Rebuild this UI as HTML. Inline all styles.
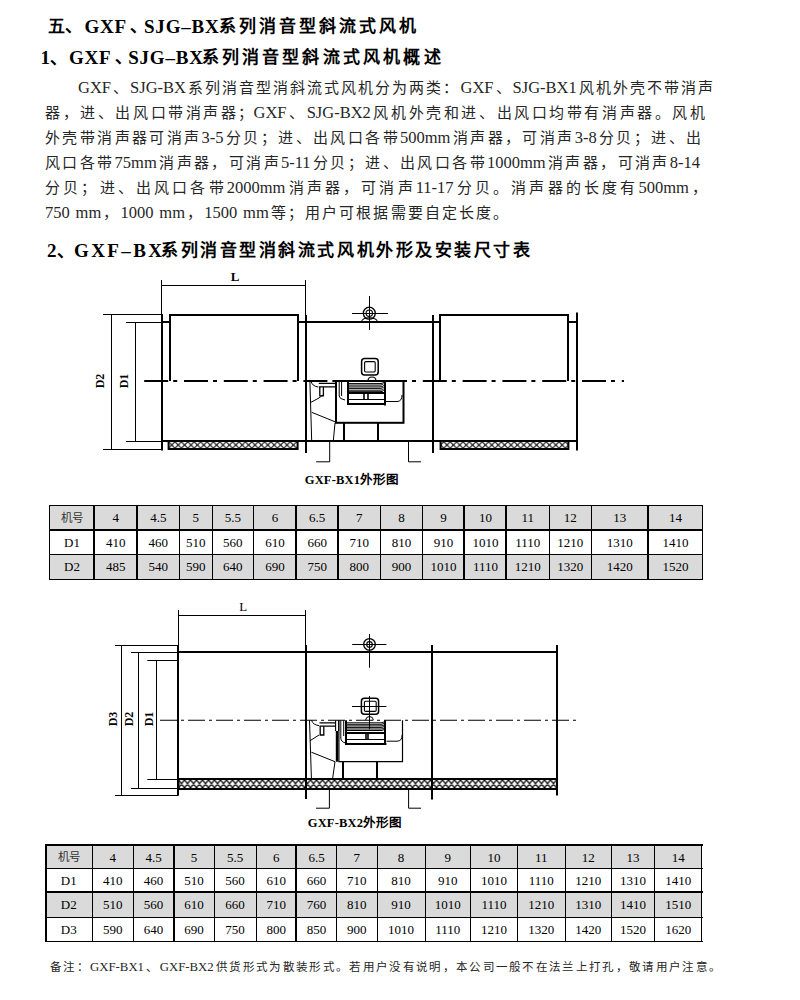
<!DOCTYPE html><html lang="zh-CN"><head><meta charset="utf-8"><style>
*{margin:0;padding:0;box-sizing:border-box}
html,body{width:800px;height:1000px;background:#fff;overflow:hidden}
body{position:relative;font-family:"Liberation Serif",serif;color:#000}
.t{position:absolute;white-space:nowrap;text-align:justify;text-align-last:justify}
.h{font-weight:bold}
.c{position:absolute;text-align:center;white-space:nowrap}
svg{position:absolute;left:0;top:0}
</style></head><body>
<div class="t" style="left:78px;top:78px;width:635px;font-size:15px;line-height:19px;color:#262626"><span style="font-size:16.5px">GXF</span>、<span style="font-size:16.5px">SJG-BX</span>系列消音型消斜流式风机分为两类：<span style="font-size:16.5px">GXF</span>、<span style="font-size:16.5px">SJG-BX1</span>风机外壳不带消声</div>
<div class="t" style="left:45px;top:103px;width:660px;font-size:15px;line-height:19px;color:#262626">器，进、出风口带消声器；<span style="font-size:16.5px">GXF</span>、<span style="font-size:16.5px">SJG-BX2</span>风机外壳和进、出风口均带有消声器。风机</div>
<div class="t" style="left:45px;top:128px;width:656px;font-size:15px;line-height:19px;color:#262626">外壳带消声器可消声<span style="font-size:16.5px">3-5</span>分贝；进、出风口各带<span style="font-size:16.5px">500mm</span>消声器，可消声<span style="font-size:16.5px">3-8</span>分贝；进、出</div>
<div class="t" style="left:45px;top:153px;width:655px;font-size:15px;line-height:19px;color:#262626">风口各带<span style="font-size:16.5px">75mm</span>消声器，可消声<span style="font-size:16.5px">5-11</span>分贝；进、出风口各带<span style="font-size:16.5px">1000mm</span>消声器，可消声<span style="font-size:16.5px">8-14</span></div>
<div class="t" style="left:45px;top:178px;width:662px;font-size:15px;line-height:19px;color:#262626">分贝；进、出风口各带<span style="font-size:16.5px">2000mm</span>消声器，可消声<span style="font-size:16.5px">11-17</span>分贝。消声器的长度有<span style="font-size:16.5px">500mm</span>，</div>
<div class="t" style="left:45px;top:203px;width:463px;font-size:15px;line-height:19px;color:#262626"><span style="font-size:16.5px">750</span> <span style="font-size:16.5px">mm</span>，<span style="font-size:16.5px">1000</span> <span style="font-size:16.5px">mm</span>，<span style="font-size:16.5px">1500</span> <span style="font-size:16.5px">mm</span>等；用户可根据需要自定长度。</div>
<div class="t" style="left:50px;top:960px;width:670px;font-size:11.5px;line-height:15.5px;color:#262626">备注：<span style="font-size:12.8px">GXF-BX1</span>、<span style="font-size:12.8px">GXF-BX2</span>供货形式为散装形式。若用户没有说明，本公司一般不在法兰上打孔，敬请用户注意。</div>
<div class="h" style="position:absolute;white-space:nowrap;left:48px;top:15.5px;font-size:17px;line-height:21px">五、</div>
<div class="h" style="position:absolute;white-space:nowrap;left:84.5px;top:15.5px;font-size:17px;line-height:21px"><span style="font-size:19px;letter-spacing:0.8px">GXF</span></div>
<div class="h" style="position:absolute;white-space:nowrap;left:129.5px;top:15.5px;font-size:17px;line-height:21px">、</div>
<div class="h" style="position:absolute;white-space:nowrap;left:144px;top:15.5px;font-size:17px;line-height:21px"><span style="font-size:19px;letter-spacing:0.8px">SJG–BX</span></div>
<div class="t h" style="left:219px;top:15.5px;width:197px;font-size:17px;line-height:21px">系列消音型斜流式风机</div>
<div class="h" style="position:absolute;white-space:nowrap;left:40.5px;top:47px;font-size:17px;line-height:21px"><span style="font-size:19px">1</span>、</div>
<div class="h" style="position:absolute;white-space:nowrap;left:69px;top:47px;font-size:17px;line-height:21px"><span style="font-size:19px;letter-spacing:0.8px">GXF</span></div>
<div class="h" style="position:absolute;white-space:nowrap;left:114.5px;top:47px;font-size:17px;line-height:21px">、</div>
<div class="h" style="position:absolute;white-space:nowrap;left:128.2px;top:47px;font-size:17px;line-height:21px"><span style="font-size:19px;letter-spacing:0.8px">SJG–BX</span></div>
<div class="t h" style="left:201.5px;top:47px;width:239px;font-size:17px;line-height:21px">系列消音型斜流式风机概述</div>
<div class="h" style="position:absolute;white-space:nowrap;left:47px;top:240px;font-size:17px;line-height:21px"><span style="font-size:19px">2</span>、</div>
<div class="h" style="position:absolute;white-space:nowrap;left:74px;top:240px;font-size:17px;line-height:21px"><span style="font-size:19px;letter-spacing:2.4px">GXF–BX</span></div>
<div class="t h" style="left:161px;top:240px;width:369px;font-size:17px;line-height:21px">系列消音型消斜流式风机外形及安装尺寸表</div>
<div style="position:absolute;left:49.5px;top:505.5px;width:653.0px;height:24.5px;background:#dadada"></div>
<div style="position:absolute;left:49.5px;top:554.5px;width:653.0px;height:24.5px;background:#dadada"></div>
<div style="position:absolute;left:49px;top:505px;width:1px;height:75px;background:#000"></div>
<div style="position:absolute;left:93.0px;top:505px;width:2px;height:75px;background:#000"></div>
<div style="position:absolute;left:136.0px;top:505px;width:2px;height:75px;background:#000"></div>
<div style="position:absolute;left:179px;top:505px;width:1px;height:75px;background:#000"></div>
<div style="position:absolute;left:212px;top:505px;width:1px;height:75px;background:#000"></div>
<div style="position:absolute;left:253px;top:505px;width:1px;height:75px;background:#000"></div>
<div style="position:absolute;left:295.0px;top:505px;width:2px;height:75px;background:#000"></div>
<div style="position:absolute;left:337.0px;top:505px;width:2px;height:75px;background:#000"></div>
<div style="position:absolute;left:380px;top:505px;width:1px;height:75px;background:#000"></div>
<div style="position:absolute;left:422px;top:505px;width:1px;height:75px;background:#000"></div>
<div style="position:absolute;left:463.0px;top:505px;width:2px;height:75px;background:#000"></div>
<div style="position:absolute;left:505.0px;top:505px;width:2px;height:75px;background:#000"></div>
<div style="position:absolute;left:549px;top:505px;width:1px;height:75px;background:#000"></div>
<div style="position:absolute;left:591px;top:505px;width:1px;height:75px;background:#000"></div>
<div style="position:absolute;left:647.0px;top:505px;width:2px;height:75px;background:#000"></div>
<div style="position:absolute;left:702px;top:505px;width:1px;height:75px;background:#000"></div>
<div style="position:absolute;left:49px;top:505px;width:654px;height:1px;background:#000"></div>
<div style="position:absolute;left:49px;top:529.0px;width:654px;height:2px;background:#000"></div>
<div style="position:absolute;left:49px;top:554px;width:654px;height:1px;background:#000"></div>
<div style="position:absolute;left:49px;top:579px;width:654px;height:1px;background:#000"></div>
<div class="c" style="left:49.5px;top:506.10px;width:45.0px;height:24.5px;line-height:24.5px;font-size:11.5px;color:#333">机号</div>
<div class="c" style="left:94.5px;top:506.10px;width:42.5px;height:24.5px;line-height:24.5px;font-size:13px;color:#000">4</div>
<div class="c" style="left:137px;top:506.10px;width:42.5px;height:24.5px;line-height:24.5px;font-size:13px;color:#000">4.5</div>
<div class="c" style="left:179.5px;top:506.10px;width:32.5px;height:24.5px;line-height:24.5px;font-size:13px;color:#000">5</div>
<div class="c" style="left:212px;top:506.10px;width:41.599999999999994px;height:24.5px;line-height:24.5px;font-size:13px;color:#000">5.5</div>
<div class="c" style="left:253.6px;top:506.10px;width:42.599999999999994px;height:24.5px;line-height:24.5px;font-size:13px;color:#000">6</div>
<div class="c" style="left:296.2px;top:506.10px;width:41.900000000000034px;height:24.5px;line-height:24.5px;font-size:13px;color:#000">6.5</div>
<div class="c" style="left:338.1px;top:506.10px;width:42.299999999999955px;height:24.5px;line-height:24.5px;font-size:13px;color:#000">7</div>
<div class="c" style="left:380.4px;top:506.10px;width:42.200000000000045px;height:24.5px;line-height:24.5px;font-size:13px;color:#000">8</div>
<div class="c" style="left:422.6px;top:506.10px;width:41.89999999999998px;height:24.5px;line-height:24.5px;font-size:13px;color:#000">9</div>
<div class="c" style="left:464.5px;top:506.10px;width:42.0px;height:24.5px;line-height:24.5px;font-size:13px;color:#000">10</div>
<div class="c" style="left:506.5px;top:506.10px;width:42.700000000000045px;height:24.5px;line-height:24.5px;font-size:13px;color:#000">11</div>
<div class="c" style="left:549.2px;top:506.10px;width:42.0px;height:24.5px;line-height:24.5px;font-size:13px;color:#000">12</div>
<div class="c" style="left:591.2px;top:506.10px;width:57.09999999999991px;height:24.5px;line-height:24.5px;font-size:13px;color:#000">13</div>
<div class="c" style="left:648.3px;top:506.10px;width:54.200000000000045px;height:24.5px;line-height:24.5px;font-size:13px;color:#000">14</div>
<div class="c" style="left:49.5px;top:530.60px;width:45.0px;height:24.5px;line-height:24.5px;font-size:13px;color:#000">D1</div>
<div class="c" style="left:94.5px;top:530.60px;width:42.5px;height:24.5px;line-height:24.5px;font-size:13px;color:#000">410</div>
<div class="c" style="left:137px;top:530.60px;width:42.5px;height:24.5px;line-height:24.5px;font-size:13px;color:#000">460</div>
<div class="c" style="left:179.5px;top:530.60px;width:32.5px;height:24.5px;line-height:24.5px;font-size:13px;color:#000">510</div>
<div class="c" style="left:212px;top:530.60px;width:41.599999999999994px;height:24.5px;line-height:24.5px;font-size:13px;color:#000">560</div>
<div class="c" style="left:253.6px;top:530.60px;width:42.599999999999994px;height:24.5px;line-height:24.5px;font-size:13px;color:#000">610</div>
<div class="c" style="left:296.2px;top:530.60px;width:41.900000000000034px;height:24.5px;line-height:24.5px;font-size:13px;color:#000">660</div>
<div class="c" style="left:338.1px;top:530.60px;width:42.299999999999955px;height:24.5px;line-height:24.5px;font-size:13px;color:#000">710</div>
<div class="c" style="left:380.4px;top:530.60px;width:42.200000000000045px;height:24.5px;line-height:24.5px;font-size:13px;color:#000">810</div>
<div class="c" style="left:422.6px;top:530.60px;width:41.89999999999998px;height:24.5px;line-height:24.5px;font-size:13px;color:#000">910</div>
<div class="c" style="left:464.5px;top:530.60px;width:42.0px;height:24.5px;line-height:24.5px;font-size:13px;color:#000">1010</div>
<div class="c" style="left:506.5px;top:530.60px;width:42.700000000000045px;height:24.5px;line-height:24.5px;font-size:13px;color:#000">1110</div>
<div class="c" style="left:549.2px;top:530.60px;width:42.0px;height:24.5px;line-height:24.5px;font-size:13px;color:#000">1210</div>
<div class="c" style="left:591.2px;top:530.60px;width:57.09999999999991px;height:24.5px;line-height:24.5px;font-size:13px;color:#000">1310</div>
<div class="c" style="left:648.3px;top:530.60px;width:54.200000000000045px;height:24.5px;line-height:24.5px;font-size:13px;color:#000">1410</div>
<div class="c" style="left:49.5px;top:555.10px;width:45.0px;height:24.5px;line-height:24.5px;font-size:13px;color:#000">D2</div>
<div class="c" style="left:94.5px;top:555.10px;width:42.5px;height:24.5px;line-height:24.5px;font-size:13px;color:#000">485</div>
<div class="c" style="left:137px;top:555.10px;width:42.5px;height:24.5px;line-height:24.5px;font-size:13px;color:#000">540</div>
<div class="c" style="left:179.5px;top:555.10px;width:32.5px;height:24.5px;line-height:24.5px;font-size:13px;color:#000">590</div>
<div class="c" style="left:212px;top:555.10px;width:41.599999999999994px;height:24.5px;line-height:24.5px;font-size:13px;color:#000">640</div>
<div class="c" style="left:253.6px;top:555.10px;width:42.599999999999994px;height:24.5px;line-height:24.5px;font-size:13px;color:#000">690</div>
<div class="c" style="left:296.2px;top:555.10px;width:41.900000000000034px;height:24.5px;line-height:24.5px;font-size:13px;color:#000">750</div>
<div class="c" style="left:338.1px;top:555.10px;width:42.299999999999955px;height:24.5px;line-height:24.5px;font-size:13px;color:#000">800</div>
<div class="c" style="left:380.4px;top:555.10px;width:42.200000000000045px;height:24.5px;line-height:24.5px;font-size:13px;color:#000">900</div>
<div class="c" style="left:422.6px;top:555.10px;width:41.89999999999998px;height:24.5px;line-height:24.5px;font-size:13px;color:#000">1010</div>
<div class="c" style="left:464.5px;top:555.10px;width:42.0px;height:24.5px;line-height:24.5px;font-size:13px;color:#000">1110</div>
<div class="c" style="left:506.5px;top:555.10px;width:42.700000000000045px;height:24.5px;line-height:24.5px;font-size:13px;color:#000">1210</div>
<div class="c" style="left:549.2px;top:555.10px;width:42.0px;height:24.5px;line-height:24.5px;font-size:13px;color:#000">1320</div>
<div class="c" style="left:591.2px;top:555.10px;width:57.09999999999991px;height:24.5px;line-height:24.5px;font-size:13px;color:#000">1420</div>
<div class="c" style="left:648.3px;top:555.10px;width:54.200000000000045px;height:24.5px;line-height:24.5px;font-size:13px;color:#000">1520</div>
<div style="position:absolute;left:45.5px;top:845px;width:656.3px;height:23.25px;background:#dadada"></div>
<div style="position:absolute;left:45.5px;top:892.5px;width:656.3px;height:24.5px;background:#dadada"></div>
<div style="position:absolute;left:45.0px;top:844px;width:2px;height:98px;background:#000"></div>
<div style="position:absolute;left:92px;top:844px;width:1px;height:98px;background:#000"></div>
<div style="position:absolute;left:133px;top:844px;width:1px;height:98px;background:#000"></div>
<div style="position:absolute;left:173.0px;top:844px;width:2px;height:98px;background:#000"></div>
<div style="position:absolute;left:214px;top:844px;width:1px;height:98px;background:#000"></div>
<div style="position:absolute;left:256px;top:844px;width:1px;height:98px;background:#000"></div>
<div style="position:absolute;left:295.0px;top:844px;width:2px;height:98px;background:#000"></div>
<div style="position:absolute;left:336px;top:844px;width:1px;height:98px;background:#000"></div>
<div style="position:absolute;left:377px;top:844px;width:1px;height:98px;background:#000"></div>
<div style="position:absolute;left:425px;top:844px;width:1px;height:98px;background:#000"></div>
<div style="position:absolute;left:470px;top:844px;width:1px;height:98px;background:#000"></div>
<div style="position:absolute;left:517px;top:844px;width:1px;height:98px;background:#000"></div>
<div style="position:absolute;left:565px;top:844px;width:1px;height:98px;background:#000"></div>
<div style="position:absolute;left:611px;top:844px;width:1px;height:98px;background:#000"></div>
<div style="position:absolute;left:654px;top:844px;width:1px;height:98px;background:#000"></div>
<div style="position:absolute;left:701px;top:844px;width:1px;height:98px;background:#000"></div>
<div style="position:absolute;left:45px;top:844.0px;width:658px;height:2px;background:#000"></div>
<div style="position:absolute;left:45px;top:868px;width:658px;height:1px;background:#000"></div>
<div style="position:absolute;left:45px;top:891.0px;width:658px;height:2px;background:#000"></div>
<div style="position:absolute;left:45px;top:917px;width:658px;height:1px;background:#000"></div>
<div style="position:absolute;left:45px;top:941px;width:658px;height:1px;background:#000"></div>
<div class="c" style="left:45.5px;top:845.60px;width:46.5px;height:23.25px;line-height:23.25px;font-size:11.5px;color:#333">机号</div>
<div class="c" style="left:92px;top:845.60px;width:41.25px;height:23.25px;line-height:23.25px;font-size:13px;color:#000">4</div>
<div class="c" style="left:133.25px;top:845.60px;width:40.5px;height:23.25px;line-height:23.25px;font-size:13px;color:#000">4.5</div>
<div class="c" style="left:173.75px;top:845.60px;width:40.25px;height:23.25px;line-height:23.25px;font-size:13px;color:#000">5</div>
<div class="c" style="left:214px;top:845.60px;width:42px;height:23.25px;line-height:23.25px;font-size:13px;color:#000">5.5</div>
<div class="c" style="left:256px;top:845.60px;width:40.5px;height:23.25px;line-height:23.25px;font-size:13px;color:#000">6</div>
<div class="c" style="left:296.5px;top:845.60px;width:40.0px;height:23.25px;line-height:23.25px;font-size:13px;color:#000">6.5</div>
<div class="c" style="left:336.5px;top:845.60px;width:40.5px;height:23.25px;line-height:23.25px;font-size:13px;color:#000">7</div>
<div class="c" style="left:377px;top:845.60px;width:48px;height:23.25px;line-height:23.25px;font-size:13px;color:#000">8</div>
<div class="c" style="left:425px;top:845.60px;width:45.5px;height:23.25px;line-height:23.25px;font-size:13px;color:#000">9</div>
<div class="c" style="left:470.5px;top:845.60px;width:47.200000000000045px;height:23.25px;line-height:23.25px;font-size:13px;color:#000">10</div>
<div class="c" style="left:517.7px;top:845.60px;width:47.299999999999955px;height:23.25px;line-height:23.25px;font-size:13px;color:#000">11</div>
<div class="c" style="left:565px;top:845.60px;width:46.5px;height:23.25px;line-height:23.25px;font-size:13px;color:#000">12</div>
<div class="c" style="left:611.5px;top:845.60px;width:43.10000000000002px;height:23.25px;line-height:23.25px;font-size:13px;color:#000">13</div>
<div class="c" style="left:654.6px;top:845.60px;width:47.19999999999993px;height:23.25px;line-height:23.25px;font-size:13px;color:#000">14</div>
<div class="c" style="left:45.5px;top:868.85px;width:46.5px;height:24.25px;line-height:24.25px;font-size:13px;color:#000">D1</div>
<div class="c" style="left:92px;top:868.85px;width:41.25px;height:24.25px;line-height:24.25px;font-size:13px;color:#000">410</div>
<div class="c" style="left:133.25px;top:868.85px;width:40.5px;height:24.25px;line-height:24.25px;font-size:13px;color:#000">460</div>
<div class="c" style="left:173.75px;top:868.85px;width:40.25px;height:24.25px;line-height:24.25px;font-size:13px;color:#000">510</div>
<div class="c" style="left:214px;top:868.85px;width:42px;height:24.25px;line-height:24.25px;font-size:13px;color:#000">560</div>
<div class="c" style="left:256px;top:868.85px;width:40.5px;height:24.25px;line-height:24.25px;font-size:13px;color:#000">610</div>
<div class="c" style="left:296.5px;top:868.85px;width:40.0px;height:24.25px;line-height:24.25px;font-size:13px;color:#000">660</div>
<div class="c" style="left:336.5px;top:868.85px;width:40.5px;height:24.25px;line-height:24.25px;font-size:13px;color:#000">710</div>
<div class="c" style="left:377px;top:868.85px;width:48px;height:24.25px;line-height:24.25px;font-size:13px;color:#000">810</div>
<div class="c" style="left:425px;top:868.85px;width:45.5px;height:24.25px;line-height:24.25px;font-size:13px;color:#000">910</div>
<div class="c" style="left:470.5px;top:868.85px;width:47.200000000000045px;height:24.25px;line-height:24.25px;font-size:13px;color:#000">1010</div>
<div class="c" style="left:517.7px;top:868.85px;width:47.299999999999955px;height:24.25px;line-height:24.25px;font-size:13px;color:#000">1110</div>
<div class="c" style="left:565px;top:868.85px;width:46.5px;height:24.25px;line-height:24.25px;font-size:13px;color:#000">1210</div>
<div class="c" style="left:611.5px;top:868.85px;width:43.10000000000002px;height:24.25px;line-height:24.25px;font-size:13px;color:#000">1310</div>
<div class="c" style="left:654.6px;top:868.85px;width:47.19999999999993px;height:24.25px;line-height:24.25px;font-size:13px;color:#000">1410</div>
<div class="c" style="left:45.5px;top:893.10px;width:46.5px;height:24.5px;line-height:24.5px;font-size:13px;color:#000">D2</div>
<div class="c" style="left:92px;top:893.10px;width:41.25px;height:24.5px;line-height:24.5px;font-size:13px;color:#000">510</div>
<div class="c" style="left:133.25px;top:893.10px;width:40.5px;height:24.5px;line-height:24.5px;font-size:13px;color:#000">560</div>
<div class="c" style="left:173.75px;top:893.10px;width:40.25px;height:24.5px;line-height:24.5px;font-size:13px;color:#000">610</div>
<div class="c" style="left:214px;top:893.10px;width:42px;height:24.5px;line-height:24.5px;font-size:13px;color:#000">660</div>
<div class="c" style="left:256px;top:893.10px;width:40.5px;height:24.5px;line-height:24.5px;font-size:13px;color:#000">710</div>
<div class="c" style="left:296.5px;top:893.10px;width:40.0px;height:24.5px;line-height:24.5px;font-size:13px;color:#000">760</div>
<div class="c" style="left:336.5px;top:893.10px;width:40.5px;height:24.5px;line-height:24.5px;font-size:13px;color:#000">810</div>
<div class="c" style="left:377px;top:893.10px;width:48px;height:24.5px;line-height:24.5px;font-size:13px;color:#000">910</div>
<div class="c" style="left:425px;top:893.10px;width:45.5px;height:24.5px;line-height:24.5px;font-size:13px;color:#000">1010</div>
<div class="c" style="left:470.5px;top:893.10px;width:47.200000000000045px;height:24.5px;line-height:24.5px;font-size:13px;color:#000">1110</div>
<div class="c" style="left:517.7px;top:893.10px;width:47.299999999999955px;height:24.5px;line-height:24.5px;font-size:13px;color:#000">1210</div>
<div class="c" style="left:565px;top:893.10px;width:46.5px;height:24.5px;line-height:24.5px;font-size:13px;color:#000">1310</div>
<div class="c" style="left:611.5px;top:893.10px;width:43.10000000000002px;height:24.5px;line-height:24.5px;font-size:13px;color:#000">1410</div>
<div class="c" style="left:654.6px;top:893.10px;width:47.19999999999993px;height:24.5px;line-height:24.5px;font-size:13px;color:#000">1510</div>
<div class="c" style="left:45.5px;top:917.60px;width:46.5px;height:24.25px;line-height:24.25px;font-size:13px;color:#000">D3</div>
<div class="c" style="left:92px;top:917.60px;width:41.25px;height:24.25px;line-height:24.25px;font-size:13px;color:#000">590</div>
<div class="c" style="left:133.25px;top:917.60px;width:40.5px;height:24.25px;line-height:24.25px;font-size:13px;color:#000">640</div>
<div class="c" style="left:173.75px;top:917.60px;width:40.25px;height:24.25px;line-height:24.25px;font-size:13px;color:#000">690</div>
<div class="c" style="left:214px;top:917.60px;width:42px;height:24.25px;line-height:24.25px;font-size:13px;color:#000">750</div>
<div class="c" style="left:256px;top:917.60px;width:40.5px;height:24.25px;line-height:24.25px;font-size:13px;color:#000">800</div>
<div class="c" style="left:296.5px;top:917.60px;width:40.0px;height:24.25px;line-height:24.25px;font-size:13px;color:#000">850</div>
<div class="c" style="left:336.5px;top:917.60px;width:40.5px;height:24.25px;line-height:24.25px;font-size:13px;color:#000">900</div>
<div class="c" style="left:377px;top:917.60px;width:48px;height:24.25px;line-height:24.25px;font-size:13px;color:#000">1010</div>
<div class="c" style="left:425px;top:917.60px;width:45.5px;height:24.25px;line-height:24.25px;font-size:13px;color:#000">1110</div>
<div class="c" style="left:470.5px;top:917.60px;width:47.200000000000045px;height:24.25px;line-height:24.25px;font-size:13px;color:#000">1210</div>
<div class="c" style="left:517.7px;top:917.60px;width:47.299999999999955px;height:24.25px;line-height:24.25px;font-size:13px;color:#000">1320</div>
<div class="c" style="left:565px;top:917.60px;width:46.5px;height:24.25px;line-height:24.25px;font-size:13px;color:#000">1420</div>
<div class="c" style="left:611.5px;top:917.60px;width:43.10000000000002px;height:24.25px;line-height:24.25px;font-size:13px;color:#000">1520</div>
<div class="c" style="left:654.6px;top:917.60px;width:47.19999999999993px;height:24.25px;line-height:24.25px;font-size:13px;color:#000">1620</div>
<svg width="800" height="1000" viewBox="0 0 800 1000" stroke="#000" fill="none" stroke-linecap="butt">
<defs><pattern id="h1" patternUnits="userSpaceOnUse" width="6.4" height="6.4" x="168.6" y="441.8"><path d="M-3.2,-3.2 L9.6,9.6 M9.6,-3.2 L-3.2,9.6" stroke="#000" stroke-width="1.1"/></pattern><pattern id="h2" patternUnits="userSpaceOnUse" width="6" height="8" x="178.5" y="779.8"><path d="M-3,-4 L9,12 M9,-4 L-3,12 M0,0 L6,8 M6,0 L0,8" stroke="#000" stroke-width="1.3"/></pattern></defs>
<line x1="161.5" y1="280" x2="161.5" y2="315" stroke-width="1.0"/>
<line x1="305.5" y1="280" x2="305.5" y2="315" stroke-width="1.0"/>
<line x1="161.4" y1="285.5" x2="305.5" y2="285.5" stroke-width="1.0"/>
<line x1="103" y1="314.5" x2="162" y2="314.5" stroke-width="1.0"/>
<line x1="103" y1="449.5" x2="162" y2="449.5" stroke-width="1.0"/>
<line x1="111.5" y1="314.4" x2="111.5" y2="449.4" stroke-width="1.0"/>
<line x1="126" y1="322.5" x2="162" y2="322.5" stroke-width="1.0"/>
<line x1="126" y1="441.5" x2="162" y2="441.5" stroke-width="1.0"/>
<line x1="135.5" y1="322.4" x2="135.5" y2="441.4" stroke-width="1.0"/>
<line x1="162" y1="314" x2="162" y2="450.5" stroke-width="2"/>
<line x1="306" y1="315" x2="306" y2="453" stroke-width="2"/>
<line x1="433" y1="315" x2="433" y2="453" stroke-width="2"/>
<line x1="577" y1="312.4" x2="577" y2="450.5" stroke-width="2"/>
<path d="M162,322 H170 M170,381 V315 H298 V381" stroke-width="2" fill="none"/>
<path d="M298,322 H440 M440,381 V315 H568 V381 M568,322 H577" stroke-width="2" fill="none"/>
<line x1="162" y1="441" x2="577" y2="441" stroke-width="2"/>
<rect x="168.6" y="441" width="129" height="8" fill="url(#h1)" stroke-width="2"/>
<rect x="440.6" y="441" width="127.8" height="8" fill="url(#h1)" stroke-width="2"/>
<line x1="144.2" y1="381" x2="624" y2="381" stroke-width="2" stroke-dasharray="24 5 4 6.8"/>
<circle cx="369.3" cy="313.2" r="6" stroke-width="1.3"/><circle cx="369.3" cy="313.2" r="3.2" stroke-width="1.1"/>
<line x1="352" y1="313.5" x2="388" y2="313.5" stroke-width="1.0"/>
<line x1="369.5" y1="296" x2="369.5" y2="330" stroke-width="1.0"/>
<path d="M361.5,322 Q362,317.8 369.3,317.8 Q376.6,317.8 377.5,322" stroke-width="1.1" fill="none"/>
<rect x="361.6" y="358.6" width="16.6" height="16.4" rx="3" stroke-width="1.5"/>
<rect x="364.6" y="361.6" width="10.6" height="10.4" rx="1.2" stroke-width="1.1"/>
<path d="M368,381 Q368,377 372,377 Q376,377 376,381" stroke-width="1.1" fill="none"/>
<rect x="336" y="381" width="67.5" height="41.8" stroke-width="2"/>
<line x1="344" y1="422.8" x2="344" y2="441" stroke-width="2"/>
<line x1="378" y1="422.8" x2="378" y2="441" stroke-width="2"/>
<line x1="309.9" y1="381" x2="311.7" y2="441" stroke-width="1.0"/>
<line x1="310.8" y1="402.4" x2="318.9" y2="398" stroke-width="1.0"/>
<line x1="311.7" y1="412.3" x2="336" y2="422.2" stroke-width="1.0"/>
<line x1="335" y1="423" x2="333.3" y2="441" stroke-width="1.0"/>
<path d="M311,381 Q312,386 318,387" stroke-width="1.0" fill="none"/>
<path d="M318.8,383.4 H336 M318.8,386.8 H336" stroke-width="1.3" fill="none"/>
<path d="M319.8,387 V395.8 H323.4 V387" stroke-width="1.3" fill="none"/>
<path d="M318.9,398 L323,395" stroke-width="1.0" fill="none"/>
<path d="M339.2,381 V396 Q339.2,399 345,400 M341.6,381 V396" stroke-width="1.0" fill="none"/>
<line x1="348" y1="381" x2="348" y2="404.4" stroke-width="2"/>
<line x1="385" y1="381" x2="385" y2="405.4" stroke-width="2"/>
<line x1="347" y1="404" x2="385.7" y2="404" stroke-width="2"/>
<path d="M349,383.6 H380 Q383.6,383.6 383.6,382.0 M349,385.1 H380 Q383.6,385.1 383.6,383.5" stroke-width="1.0" fill="none"/>
<path d="M349,386.9 H380 Q383.6,386.9 383.6,385.29999999999995 M349,388.4 H380 Q383.6,388.4 383.6,386.79999999999995" stroke-width="1.0" fill="none"/>
<path d="M349,390.2 H380 Q383.6,390.2 383.6,388.59999999999997 M349,391.7 H380 Q383.6,391.7 383.6,390.09999999999997" stroke-width="1.0" fill="none"/>
<line x1="348" y1="393" x2="384.7" y2="393" stroke-width="2"/>
<line x1="349" y1="399.5" x2="384" y2="399.5" stroke-width="1"/>
<line x1="364" y1="394" x2="364" y2="399.5" stroke-width="1.6"/>
<line x1="368" y1="394" x2="368" y2="399.5" stroke-width="1.6"/>
<path d="M384.7,401.5 H397 Q402,401.5 402,395" stroke-width="1.0" fill="none"/>
<path d="M316.2,461.8 H329.7 V441" stroke-width="1.0" fill="none"/>
<path d="M408.5,441 V461.8 H421" stroke-width="1.0" fill="none"/>
<line x1="178.5" y1="610" x2="178.5" y2="645.4" stroke-width="1.0"/>
<line x1="305.5" y1="610" x2="305.5" y2="645.4" stroke-width="1.0"/>
<line x1="178.5" y1="615.5" x2="305.6" y2="615.5" stroke-width="1.0"/>
<line x1="115" y1="645.5" x2="178.5" y2="645.5" stroke-width="1.0"/>
<line x1="115" y1="795.5" x2="178.5" y2="795.5" stroke-width="1.0"/>
<line x1="121.5" y1="645.4" x2="121.5" y2="795" stroke-width="1.0"/>
<line x1="131" y1="652.5" x2="178.5" y2="652.5" stroke-width="1.0"/>
<line x1="131" y1="788.5" x2="178.5" y2="788.5" stroke-width="1.0"/>
<line x1="138.5" y1="652.6" x2="138.5" y2="788.2" stroke-width="1.0"/>
<line x1="147.3" y1="660.5" x2="178.5" y2="660.5" stroke-width="1.0"/>
<line x1="147.3" y1="779.5" x2="178.5" y2="779.5" stroke-width="1.0"/>
<line x1="156.5" y1="660.3" x2="156.5" y2="779.8" stroke-width="1.0"/>
<line x1="178" y1="645" x2="178" y2="795.5" stroke-width="2"/>
<line x1="306" y1="645" x2="306" y2="799" stroke-width="2"/>
<line x1="432" y1="645" x2="432" y2="799.5" stroke-width="2"/>
<line x1="557" y1="645" x2="557" y2="795.5" stroke-width="2"/>
<line x1="178.5" y1="652" x2="557" y2="652" stroke-width="2"/>
<rect x="178.5" y="779" width="378.5" height="10" fill="url(#h2)" stroke-width="2"/>
<line x1="160" y1="720.3" x2="579" y2="720.3" stroke-width="1.1" stroke-dasharray="17 4 3 4"/>
<circle cx="369.5" cy="644.4" r="5.8" stroke-width="1.3"/><circle cx="369.5" cy="644.4" r="2.8" stroke-width="1.1"/>
<line x1="352.2" y1="644.5" x2="386.4" y2="644.5" stroke-width="1.0"/>
<line x1="369.5" y1="634" x2="369.5" y2="667.7" stroke-width="1.0"/>
<rect x="361.4" y="698.2" width="17.2" height="16" rx="3" stroke-width="1.5"/>
<rect x="364.4" y="701.2" width="11.8" height="10.2" rx="1.2" stroke-width="1.1"/>
<line x1="352" y1="706.5" x2="386.4" y2="706.5" stroke-width="1.0"/>
<line x1="369.5" y1="696" x2="369.5" y2="729.4" stroke-width="1.0"/>
<path d="M365.5,720.3 Q366,716.5 369.5,716.5 Q373,716.5 373.5,720.3" stroke-width="1.0" fill="none"/>
<path d="M338.9,720.3 V761.7 H402.5 V720.3" stroke-width="1.2" fill="none"/>
<line x1="337" y1="731" x2="337" y2="761.7" stroke-width="2.4"/>
<path d="M335.6,720.3 V731 M338.6,720.3 V731" stroke-width="1.1" fill="none"/>
<line x1="343" y1="761.7" x2="343" y2="778.6" stroke-width="2"/>
<line x1="377" y1="761.7" x2="377" y2="778.6" stroke-width="2"/>
<line x1="346" y1="720.3" x2="346" y2="745.1" stroke-width="2"/>
<line x1="385" y1="720.3" x2="385" y2="745.1" stroke-width="2"/>
<line x1="345" y1="744" x2="386.4" y2="744" stroke-width="2"/>
<path d="M347,722.8 H381 Q384.4,722.8 384.4,721.1999999999999 M347,724.3 H381 Q384.4,724.3 384.4,722.6999999999999" stroke-width="1.0" fill="none"/>
<path d="M347,725.9 H381 Q384.4,725.9 384.4,724.3 M347,727.4 H381 Q384.4,727.4 384.4,725.8" stroke-width="1.0" fill="none"/>
<path d="M347,729.0 H381 Q384.4,729.0 384.4,727.4 M347,730.5 H381 Q384.4,730.5 384.4,728.9" stroke-width="1.0" fill="none"/>
<line x1="346" y1="733" x2="385.4" y2="733" stroke-width="2"/>
<line x1="347" y1="739.5" x2="384.4" y2="739.5" stroke-width="1"/>
<line x1="366" y1="734" x2="366" y2="739.9" stroke-width="1.6"/>
<line x1="368" y1="734" x2="368" y2="739.9" stroke-width="1.6"/>
<path d="M386.4,741.2 H397 Q402.1,741.2 402.1,735" stroke-width="1.0" fill="none"/>
<path d="M340.8,720.3 V738 Q341,742 345.6,743 M343.7,720.3 V736" stroke-width="1.0" fill="none"/>
<line x1="309.5" y1="720.3" x2="311.4" y2="778" stroke-width="1.0"/>
<line x1="309.9" y1="740.8" x2="319" y2="735" stroke-width="1.0"/>
<line x1="311.4" y1="752.2" x2="335" y2="761.7" stroke-width="1.0"/>
<line x1="335" y1="761.7" x2="332.7" y2="778" stroke-width="1.0"/>
<path d="M311.5,720.3 Q313,725 319,725.6" stroke-width="1.0" fill="none"/>
<path d="M319.5,722.8 H336 M319.5,726.2 H336" stroke-width="1.3" fill="none"/>
<path d="M320.2,726.2 V735 H323.8 V726.2" stroke-width="1.3" fill="none"/>
<path d="M316,808.2 H329.4 V789" stroke-width="1.0" fill="none"/>
<path d="M408.6,789 V808.2 H421" stroke-width="1.0" fill="none"/>
</svg>
<div style="position:absolute;left:205px;top:267.3px;width:60px;height:20px;line-height:20px;text-align:center;font-size:13px;font-weight:bold;">L</div>
<div style="position:absolute;left:70.4px;top:371px;width:60px;height:20px;line-height:20px;text-align:center;font-size:12px;font-weight:bold;transform:rotate(-90deg);">D2</div>
<div style="position:absolute;left:94.4px;top:371px;width:60px;height:20px;line-height:20px;text-align:center;font-size:12px;font-weight:bold;transform:rotate(-90deg);">D1</div>
<div style="position:absolute;left:213.3px;top:597.3px;width:60px;height:20px;line-height:20px;text-align:center;font-size:13px;">L</div>
<div style="position:absolute;left:82.5px;top:709.3px;width:60px;height:20px;line-height:20px;text-align:center;font-size:12px;font-weight:bold;transform:rotate(-90deg);">D3</div>
<div style="position:absolute;left:98.80000000000001px;top:709.3px;width:60px;height:20px;line-height:20px;text-align:center;font-size:12px;font-weight:bold;transform:rotate(-90deg);">D2</div>
<div style="position:absolute;left:119.19999999999999px;top:709.3px;width:60px;height:20px;line-height:20px;text-align:center;font-size:12px;font-weight:bold;transform:rotate(-90deg);">D1</div>
<div style="position:absolute;left:300px;top:470.5px;width:104px;height:18px;line-height:18px;text-align:center;font-weight:bold;font-size:12.5px"><span style="letter-spacing:0.2px;font-size:12.5px">GXF-BX1</span>外形图</div>
<div style="position:absolute;left:303px;top:813.5px;width:104px;height:18px;line-height:18px;text-align:center;font-weight:bold;font-size:12.5px"><span style="letter-spacing:0.2px;font-size:12.5px">GXF-BX2</span>外形图</div>
</body></html>
